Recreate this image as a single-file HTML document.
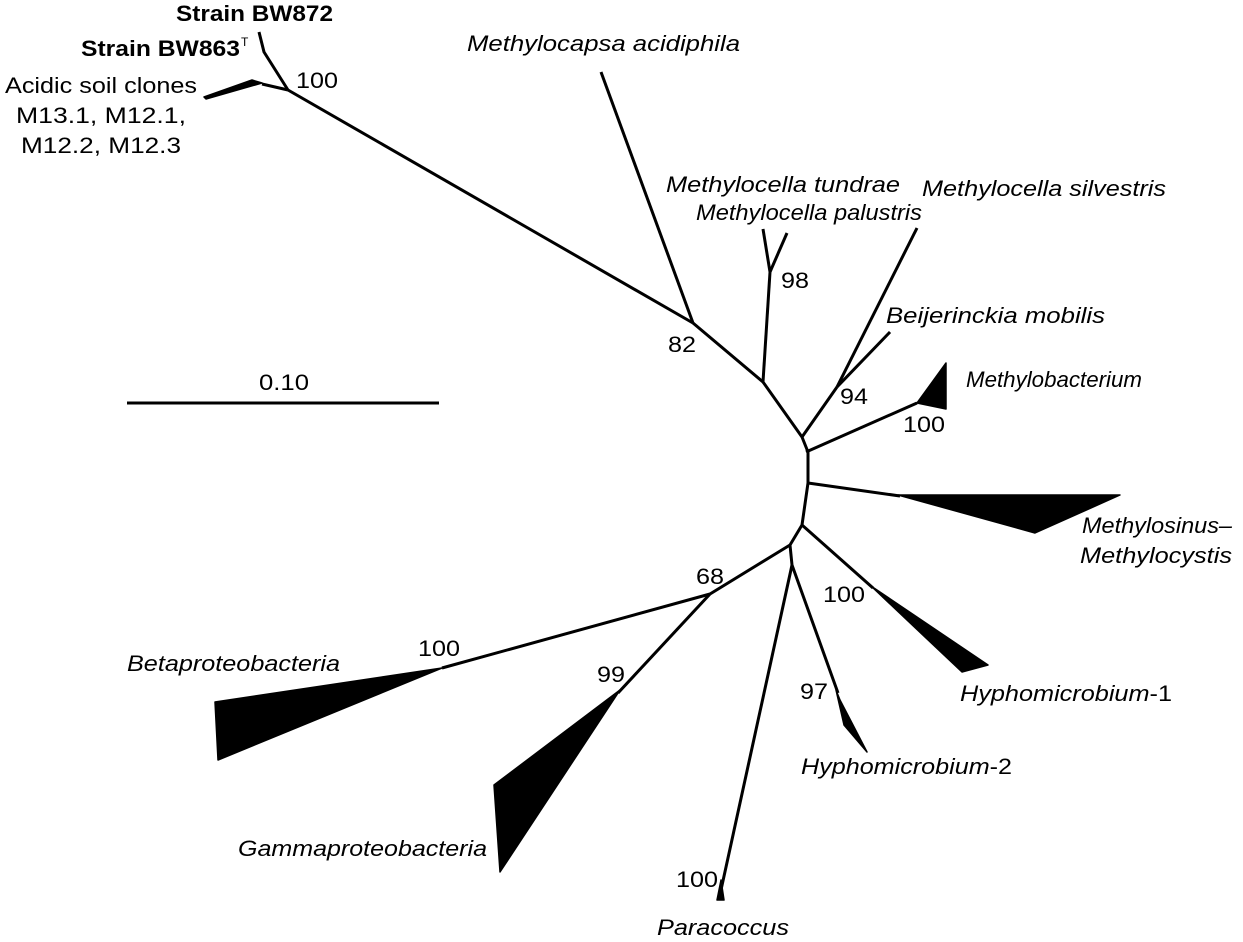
<!DOCTYPE html>
<html><head><meta charset="utf-8"><style>
html,body{margin:0;padding:0;background:#fff;}
svg{display:block;font-family:"Liberation Sans",Arial,sans-serif;font-size:22px;}
.i{font-style:italic}
.b{font-weight:bold}
line,polyline{stroke:#000;stroke-width:3;fill:none;stroke-linejoin:round}
polygon{fill:#000;stroke:#000;stroke-width:1.5;stroke-linejoin:round}
</style></head><body>
<svg width="1243" height="942" viewBox="0 0 1243 942">
<g>
<polyline points="693,323 763,382 802,437 808,452 808,483 802,525 790,545 710,594"/>
<line x1="693" y1="323" x2="288" y2="90"/>
<polyline points="288,90 264,52 259,32"/>
<polyline points="288,90 262,84"/>
<polygon points="262,83 252,80 204,97 206,99"/>
<line x1="693" y1="323" x2="601" y2="72"/>
<line x1="763" y1="382" x2="770" y2="272"/>
<line x1="770" y1="272" x2="763" y2="229"/>
<line x1="770" y1="272" x2="787" y2="233"/>
<line x1="802" y1="437" x2="837" y2="387"/>
<line x1="837" y1="387" x2="917" y2="228"/>
<line x1="837" y1="387" x2="890" y2="332"/>
<line x1="806" y1="452" x2="917" y2="403"/>
<polygon points="917,403 946,363 946,409"/>
<line x1="808" y1="483" x2="900" y2="496"/>
<polygon points="898,495 1120,495 1035,533"/>
<line x1="802" y1="525" x2="873" y2="588"/>
<polygon points="871,586 988,665 962,672"/>
<polyline points="790,545 792,565"/>
<line x1="792" y1="565" x2="838" y2="693"/>
<polygon points="836,690 844,725 867,752 840,700"/>
<line x1="792" y1="565" x2="721" y2="890"/>
<polygon points="721,880 724,900 717,900"/>
<line x1="710" y1="594" x2="442" y2="668"/>
<polygon points="442,668 215,702 218,760"/>
<line x1="710" y1="594" x2="618" y2="693"/>
<polygon points="620,690 494,785 500,872"/>
</g>
<g>
<line x1="127" y1="403" x2="439" y2="403"/>
<text x="259" y="390" textLength="50" lengthAdjust="spacingAndGlyphs">0.10</text>
</g>
<g>
<text class="b" x="176" y="21" textLength="157" lengthAdjust="spacingAndGlyphs">Strain BW872</text>
<text class="b" x="81" y="56" textLength="159" lengthAdjust="spacingAndGlyphs">Strain BW863</text>
<text x="241" y="46" font-size="12">T</text>
<text x="5" y="93" textLength="192" lengthAdjust="spacingAndGlyphs">Acidic soil clones</text>
<text x="16" y="123" textLength="170" lengthAdjust="spacingAndGlyphs">M13.1, M12.1,</text>
<text x="21" y="153" textLength="160" lengthAdjust="spacingAndGlyphs">M12.2, M12.3</text>
<text class="i" x="467" y="51" textLength="273" lengthAdjust="spacingAndGlyphs">Methylocapsa acidiphila</text>
<text class="i" x="666" y="192" textLength="234" lengthAdjust="spacingAndGlyphs">Methylocella tundrae</text>
<text class="i" x="696" y="220" textLength="226" lengthAdjust="spacingAndGlyphs">Methylocella palustris</text>
<text class="i" x="922" y="196" textLength="244" lengthAdjust="spacingAndGlyphs">Methylocella silvestris</text>
<text class="i" x="886" y="323" textLength="219" lengthAdjust="spacingAndGlyphs">Beijerinckia mobilis</text>
<text class="i" x="966" y="387" textLength="176" lengthAdjust="spacingAndGlyphs">Methylobacterium</text>
<text class="i" x="1082" y="533" textLength="150" lengthAdjust="spacingAndGlyphs">Methylosinus–</text>
<text class="i" x="1080" y="563" textLength="152" lengthAdjust="spacingAndGlyphs">Methylocystis</text>
<text x="960" y="701" textLength="212" lengthAdjust="spacingAndGlyphs"><tspan class="i">Hyphomicrobium</tspan>-1</text>
<text x="801" y="774" textLength="211" lengthAdjust="spacingAndGlyphs"><tspan class="i">Hyphomicrobium</tspan>-2</text>
<text class="i" x="657" y="935" textLength="132" lengthAdjust="spacingAndGlyphs">Paracoccus</text>
<text class="i" x="238" y="856" textLength="249" lengthAdjust="spacingAndGlyphs">Gammaproteobacteria</text>
<text class="i" x="127" y="671" textLength="213" lengthAdjust="spacingAndGlyphs">Betaproteobacteria</text>
</g>
<g>
<text x="296" y="88" textLength="42" lengthAdjust="spacingAndGlyphs">100</text>
<text x="668" y="352" textLength="28" lengthAdjust="spacingAndGlyphs">82</text>
<text x="781" y="288" textLength="28" lengthAdjust="spacingAndGlyphs">98</text>
<text x="840" y="404" textLength="28" lengthAdjust="spacingAndGlyphs">94</text>
<text x="903" y="432" textLength="42" lengthAdjust="spacingAndGlyphs">100</text>
<text x="823" y="602" textLength="42" lengthAdjust="spacingAndGlyphs">100</text>
<text x="696" y="584" textLength="28" lengthAdjust="spacingAndGlyphs">68</text>
<text x="418" y="656" textLength="42" lengthAdjust="spacingAndGlyphs">100</text>
<text x="597" y="682" textLength="28" lengthAdjust="spacingAndGlyphs">99</text>
<text x="800" y="699" textLength="28" lengthAdjust="spacingAndGlyphs">97</text>
<text x="676" y="887" textLength="42" lengthAdjust="spacingAndGlyphs">100</text>
</g>
</svg>
</body></html>
